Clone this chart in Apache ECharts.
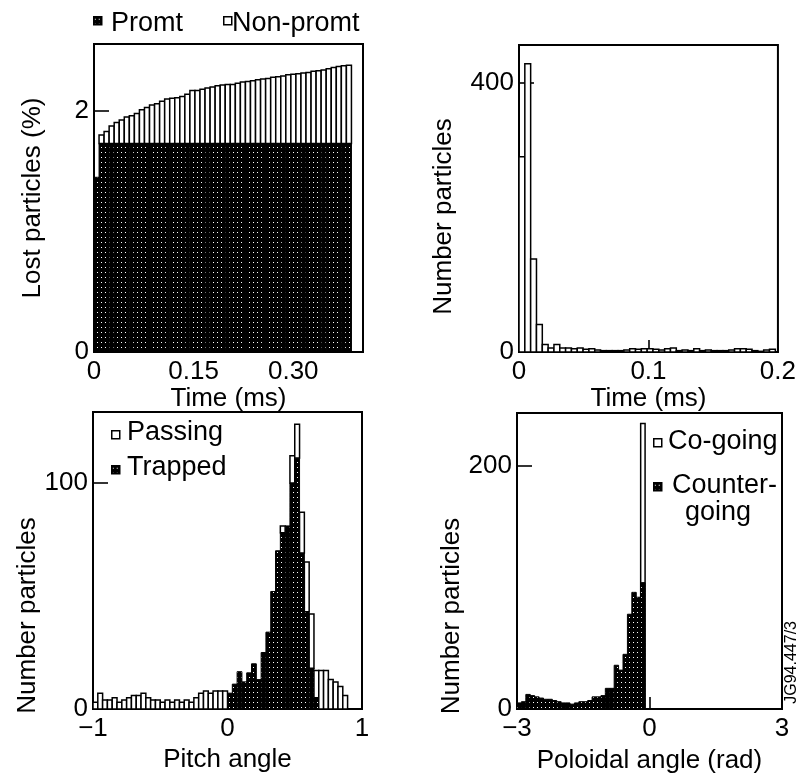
<!DOCTYPE html>
<html><head><meta charset="utf-8">
<script src="https://cdn.jsdelivr.net/npm/echarts@6/dist/echarts.min.js"></script>
<style>html,body{margin:0;padding:0;background:#fff}#c{width:799px;height:780px}</style>
</head><body><div id="c"></div>
<script>
// ---------------- DATA ----------------
// Panel (a): lost particles (%) vs time (ms), cumulative, prompt + non-prompt
const lostBinStartMs = 0;
const lostBinWidthMs = 0.0076;
const promptLost = [1.45,
  1.73,1.73,1.73,1.73,1.73,1.73,1.73,1.73,1.73,1.73,
  1.73,1.73,1.73,1.73,1.73,1.73,1.73,1.73,1.73,1.73,
  1.73,1.73,1.73,1.73,1.73,1.73,1.73,1.73,1.73,1.73,
  1.73,1.73,1.73,1.73,1.73,1.73,1.73,1.73,1.73,1.73,
  1.73,1.73,1.73,1.73,1.73,1.73,1.73,1.73,1.73,1.73];
const nonPromptLost = [0,
  0.07,0.10,0.145,0.175,0.195,0.22,0.23,0.25,0.28,0.30,
  0.32,0.33,0.35,0.37,0.375,0.38,0.39,0.41,0.44,0.44,
  0.45,0.46,0.47,0.48,0.485,0.49,0.49,0.50,0.51,0.515,
  0.52,0.53,0.535,0.54,0.55,0.555,0.56,0.57,0.575,0.58,
  0.585,0.59,0.60,0.605,0.61,0.62,0.63,0.64,0.645,0.65];

// Panel (b): number of particles vs loss time (ms)
const lossTimeBinStartMs = 0;
const lossTimeBinWidthMs = 0.0045;
const lossTimeCounts = [290,428,138,41,11,6,11,6,6,5,6,4,5,3,2,2,2,2,3,5,4,5,5,4,3,5,6,2,3,2,5,2,3,2,2,2,3,5,5,4,2,1,3,4];

// Panel (c): number of particles vs pitch angle (stacked: trapped below, passing above)
const pitchBinStart = -1;
const pitchBinWidth = 1/28;
const passingCounts = [
  3,7,4,4,5,3,4,5,6,6,7,5,4,4,3,4,3,4,3,4,3,5,7,8,7,8,8,8,
  0,0,0,0,0,0,0,0,0,0,0,3,0,12,15,18,22,24,12,17,17,13,12,10,6,0,0,0];
const trappedCounts = [
  0,0,0,0,0,0,0,0,0,0,0,0,0,0,0,0,0,0,0,0,0,0,0,0,0,0,0,0,
  7,11,16.5,12,16,20,13,25,34,52,70,78,81,100,111,69,43,18,5,0,0,0,0,0,0,0,0,0];

// Panel (d): number of particles vs poloidal angle (rad)
const poloidalBinStart = -3;
const poloidalBinWidth = 0.1;
const counterGoingCounts = [5,6,12,11,10,9,8,8,7,6,5,5,4,5,6,6,7,10,10,11,17,17,36,32,45,78,96,92,104];
const coGoingCounts      = [0,0,0,0,0,0,0,0,0,0,0,0,0,0,0,0,0,0,0,0,0,0,0,0,0,0,0,0,235];

// Tick values and labels
const ticksA_x = [0, 0.15, 0.30],   labelsA_x = ['0', '0.15', '0.30'];
const ticksA_y = [0, 2],            labelsA_y = ['0', '2'];
const ticksB_x = [0, 0.1, 0.2],     labelsB_x = ['0', '0.1', '0.2'];
const ticksB_y = [0, 400],          labelsB_y = ['0', '400'];
const ticksC_x = [-1, 0, 1],        labelsC_x = ['\u22121', '0', '1'];
const ticksC_y = [0, 100],          labelsC_y = ['0', '100'];
const ticksD_x = [-3, 0, 3],        labelsD_x = ['\u22123', '0', '3'];
const ticksD_y = [0, 200],          labelsD_y = ['0', '200'];

// ---------------- RENDER ----------------
const FONT = '"Liberation Sans", Arial, Helvetica, sans-serif';
const pat = document.createElement('canvas');
pat.width = 4; pat.height = 5;
(function(){ const c = pat.getContext('2d'); c.fillStyle = '#000'; c.fillRect(0,0,4,5); c.fillStyle = '#fff'; c.fillRect(1,2,1,1); })();
const DOTTED = { image: pat, repeat: 'repeat' };

function binsFrom(start, width, bottoms, heights) {
  const out = [];
  for (let i = 0; i < heights.length; i++) {
    const b = bottoms ? bottoms[i] : 0;
    if (heights[i] > 0) out.push([start + i * width, start + (i + 1) * width, b, b + heights[i]]);
  }
  return out;
}
function histRender(fill, lw) {
  return function (params, api) {
    const p0 = api.coord([api.value(0), api.value(2)]);
    const p1 = api.coord([api.value(1), api.value(3)]);
    return { type: 'rect',
      shape: { x: p0[0], y: p1[1], width: p1[0] - p0[0], height: p0[1] - p1[1] },
      style: { fill: fill, stroke: '#000', lineWidth: lw } };
  };
}
function hist(name, gi, data, fill, lw, z) {
  return { type: 'custom', name: name, xAxisIndex: gi, yAxisIndex: gi, clip: true, z: z || 2,
    encode: { x: [0, 1], y: [2, 3] }, data: data, renderItem: histRender(fill, lw) };
}
function fmt(vals, labels) {
  return function (v) {
    for (let k = 0; k < vals.length; k++) if (Math.abs(v - vals[k]) < 1e-7) return labels[k];
    return '';
  };
}
const axisLine = { show: true, onZero: false, lineStyle: { color: '#000', width: 2 } };
const tickStyle = (len) => ({ show: true, inside: true, length: len, lineStyle: { color: '#000', width: 1.6 } });
const nameStyle = (extra) => Object.assign({ color: '#000', fontSize: 26, fontFamily: FONT }, extra || {});
function xAx(gi, min, max, interval, ticks, labels, name, gap) {
  return { type: 'value', gridIndex: gi, min: min, max: max, interval: interval,
    axisLine: axisLine, axisTick: tickStyle(12), splitLine: { show: false },
    axisLabel: { color: '#000', fontSize: 26, fontFamily: FONT, margin: 7, formatter: fmt(ticks, labels), hideOverlap: false },
    name: name, nameLocation: 'middle', nameGap: gap, nameTextStyle: nameStyle() };
}
function yAx(gi, min, max, interval, ticks, labels, name, gap, shift) {
  return { type: 'value', gridIndex: gi, min: min, max: max, interval: interval,
    axisLine: axisLine, axisTick: tickStyle(15), splitLine: { show: false },
    axisLabel: { color: '#000', fontSize: 26, fontFamily: FONT, margin: 5, formatter: fmt(ticks, labels), hideOverlap: false },
    name: name, nameLocation: 'middle', nameGap: gap,
    nameTextStyle: nameStyle({ padding: [0, Math.max(0, 2 * shift), 0, Math.max(0, -2 * shift)] }) };
}
const gridBase = { show: true, borderColor: '#000', borderWidth: 2, backgroundColor: 'transparent', containLabel: false };

const promptData = binsFrom(lostBinStartMs, lostBinWidthMs, null, promptLost);
const nonPromptData = binsFrom(lostBinStartMs, lostBinWidthMs, promptLost, nonPromptLost);
const lossTimeData = binsFrom(lossTimeBinStartMs, lossTimeBinWidthMs, null, lossTimeCounts);
const trappedData = binsFrom(pitchBinStart, pitchBinWidth, null, trappedCounts);
const passingData = binsFrom(pitchBinStart, pitchBinWidth, trappedCounts, passingCounts);
const coGoingData = binsFrom(poloidalBinStart, poloidalBinWidth, null, coGoingCounts);
const counterGoingData = binsFrom(poloidalBinStart, poloidalBinWidth, null, counterGoingCounts);

function legendItem(x, y, fill, text, tx, ty) {
  return [
    { type: 'rect', left: x, top: y, shape: { width: 8, height: 8 }, style: { fill: fill, stroke: '#000', lineWidth: 1.5 }, z: 10 },
    { type: 'text', left: tx, top: ty, style: { text: text, fill: '#000', font: '27px ' + FONT, lineHeight: 27 }, z: 10 }
  ];
}

const option = {
  animation: false,
  backgroundColor: '#fff',
  grid: [
    Object.assign({ left: 94, top: 44, width: 269, height: 308 }, gridBase),
    Object.assign({ left: 519, top: 45, width: 264, height: 307 }, gridBase),
    Object.assign({ left: 93, top: 412, width: 269, height: 297 }, gridBase),
    Object.assign({ left: 517, top: 413, width: 265, height: 296 }, gridBase)
  ],
  xAxis: [
    xAx(0, 0, 0.405, 0.15, ticksA_x, labelsA_x, 'Time (ms)', 30),
    xAx(1, 0, 0.2, 0.1, ticksB_x, labelsB_x, 'Time (ms)', 29),
    xAx(2, -1, 1, 1, ticksC_x, labelsC_x, 'Pitch angle', 38),
    xAx(3, -3, 3, 3, ticksD_x, labelsD_x, 'Poloidal angle (rad)', 39)
  ],
  yAxis: [
    yAx(0, 0, 2.556, 2, ticksA_y, labelsA_y, 'Lost particles (%)', 48, 0),
    yAx(1, 0, 456, 400, ticksB_y, labelsB_y, 'Number particles', 62, 18),
    yAx(2, 0, 131.4, 100, ticksC_y, labelsC_y, 'Number particles', 47, 55),
    yAx(3, 0, 243.6, 200, ticksD_y, labelsD_y, 'Number particles', 42, 55)
  ],
  series: [
    hist('Promt', 0, promptData, DOTTED, 1, 3),
    hist('Non-promt', 0, nonPromptData, '#fff', 1.5, 3),
    hist('Loss time', 1, lossTimeData, '#fff', 1.5, 3),
    hist('Trapped', 2, trappedData, DOTTED, 1, 3),
    hist('Passing', 2, passingData, '#fff', 1.5, 3),
    hist('Co-going', 3, coGoingData, '#fff', 1.5, 3),
    hist('Counter-going', 3, counterGoingData, DOTTED, 1, 4)
  ],
  graphic: [].concat(
    legendItem(93, 16, DOTTED, 'Promt', 111, 10),
    legendItem(223, 16, '#fff', 'Non-promt', 232, 10),
    legendItem(111, 430, '#fff', 'Passing', 127, 419),
    legendItem(111, 465, DOTTED, 'Trapped', 127, 454),
    legendItem(653, 438, '#fff', 'Co-going', 668, 428),
    legendItem(653, 482, DOTTED, 'Counter-', 672, 472),
    [{ type: 'text', left: 685, top: 499, style: { text: 'going', fill: '#000', font: '27px ' + FONT }, z: 10 },
     { type: 'text', left: 784, top: 621, rotation: Math.PI / 2,
       style: { text: 'JG94.447/3', fill: '#000', font: '16px ' + FONT }, z: 10 }]
  )
};
const chart = echarts.init(document.getElementById('c'), null, { renderer: 'canvas' });
chart.setOption(option);
</script></body></html>
